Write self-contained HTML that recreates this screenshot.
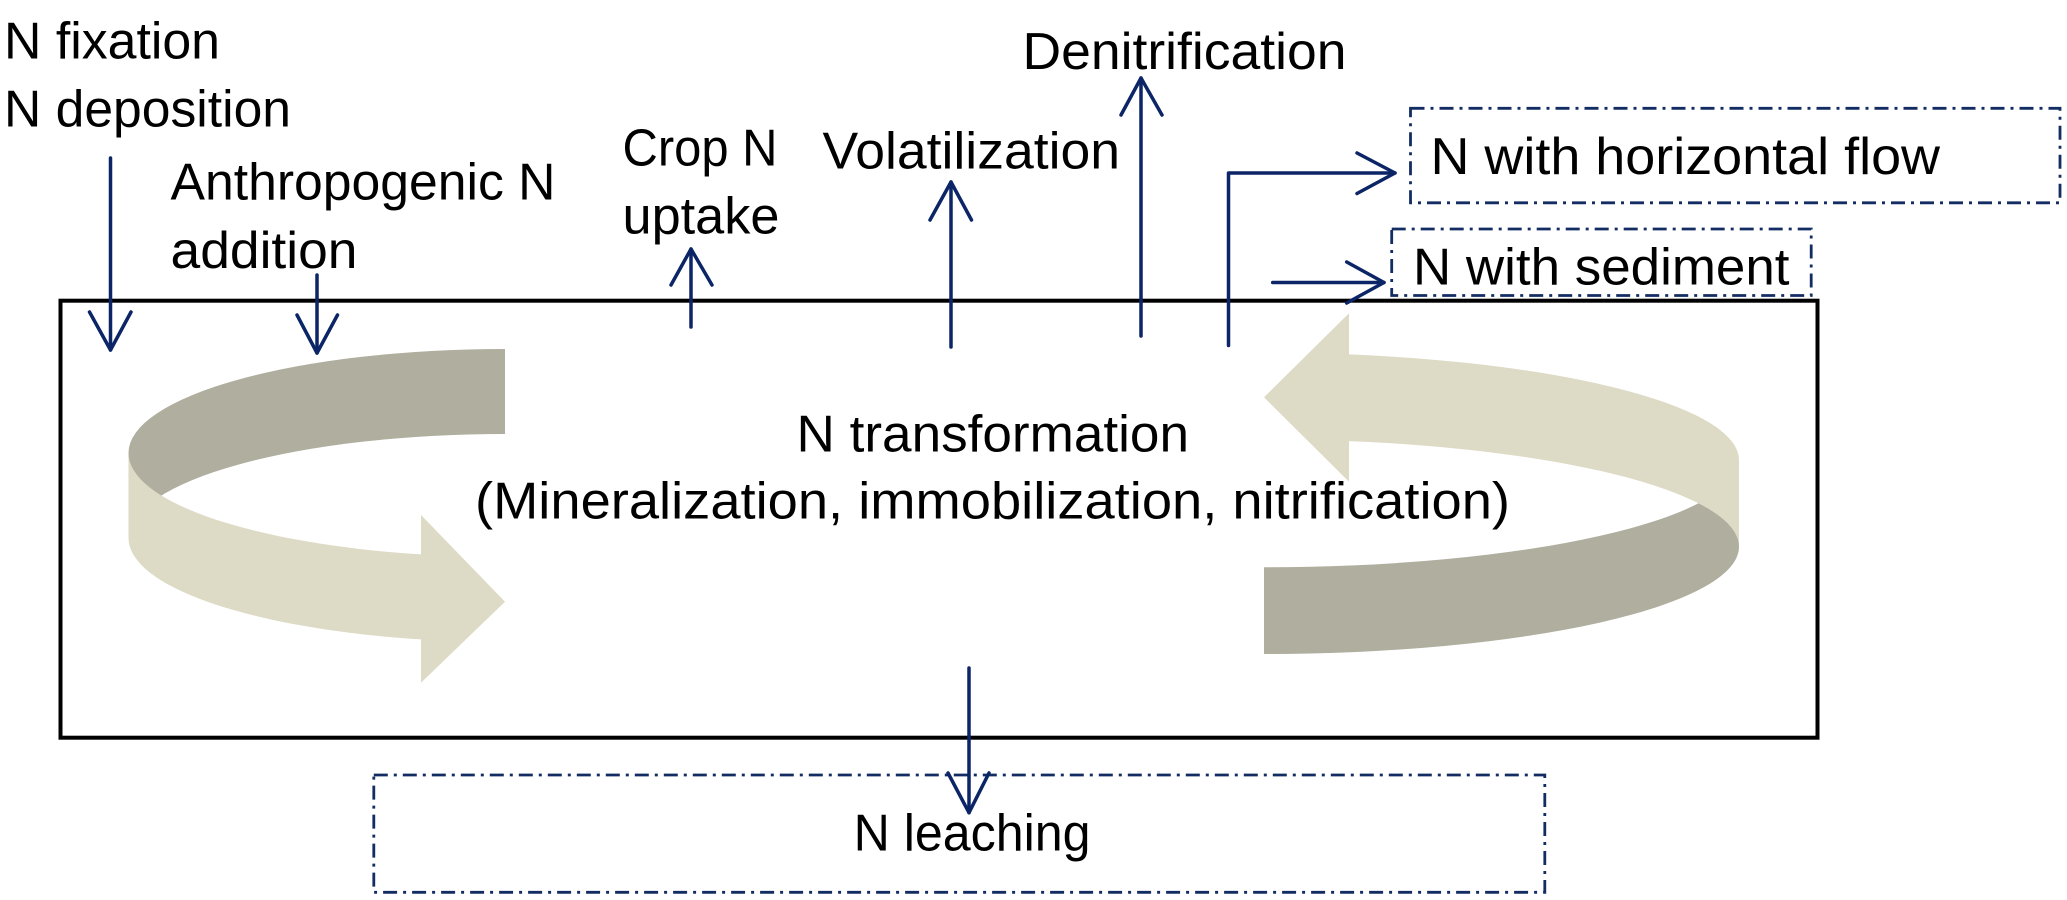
<!DOCTYPE html>
<html>
<head>
<meta charset="utf-8">
<style>
  html, body { margin: 0; padding: 0; background: #ffffff; }
  body { width: 2067px; height: 900px; overflow: hidden; }
  svg { display: block; }
  .t { font-family: "Liberation Sans", Arial, sans-serif; font-size: 52px; fill: #000; }
  .nv { stroke: #0b2566; stroke-width: 3.5; fill: none; stroke-linecap: round; stroke-linejoin: round; }
  .dd { stroke: #132d63; stroke-width: 2.8; fill: none; stroke-dasharray: 14 6 3 6; }
</style>
</head>
<body>
<svg width="2067" height="900" viewBox="0 0 2067 900" xmlns="http://www.w3.org/2000/svg">
  <rect x="0" y="0" width="2067" height="900" fill="#ffffff"/>

  <!-- main box -->
  <rect x="60.5" y="300.7" width="1757" height="437" fill="none" stroke="#000" stroke-width="4"/>

  <!-- left curved arrow -->
  <path d="M 505 349 A 376.5 104 0 0 0 128.5 453 L 128.5 538 A 376.5 104 0 0 1 505 434 Z" fill="#b0ae9e"/>
  <path d="M 128.5 453 A 376.5 104 0 0 0 421 554.4 L 421 515 L 505 601.7 L 421 682.7 L 421 639.4 A 376.5 104 0 0 1 128.5 538 Z" fill="#dddac5"/>

  <!-- right curved arrow -->
  <path d="M 1264 567.3 A 475 107.3 0 0 0 1739 460 L 1739 546.7 A 475 107.3 0 0 1 1264 654 Z" fill="#b0ae9e"/>
  <path d="M 1349 354.4 A 475 107.3 0 0 1 1739 460 L 1739 546.7 A 475 107.3 0 0 0 1349 441.1 L 1349 481.7 L 1264 397.3 L 1349 313.3 Z" fill="#dddac5"/>

  <!-- dashed boxes -->
  <rect class="dd" x="1410.5" y="108.3" width="649.5" height="94.5"/>
  <rect class="dd" x="1391.7" y="229" width="419.5" height="66.5"/>
  <rect class="dd" x="373.8" y="775" width="1171" height="117.3"/>

  <!-- texts -->
  <text class="t" x="4" y="58.3" textLength="216" lengthAdjust="spacingAndGlyphs">N fixation</text>
  <text class="t" x="4" y="126.7" textLength="287" lengthAdjust="spacingAndGlyphs">N deposition</text>
  <text class="t" x="170.5" y="199.3" textLength="385" lengthAdjust="spacingAndGlyphs">Anthropogenic N</text>
  <text class="t" x="170.5" y="268" textLength="187" lengthAdjust="spacingAndGlyphs">addition</text>
  <text class="t" x="622.5" y="165.3" textLength="155" lengthAdjust="spacingAndGlyphs">Crop N</text>
  <text class="t" x="622.5" y="233.4" textLength="157" lengthAdjust="spacingAndGlyphs">uptake</text>
  <text class="t" x="822.5" y="168.4" textLength="297.5" lengthAdjust="spacingAndGlyphs">Volatilization</text>
  <text class="t" x="1022.5" y="69" textLength="324" lengthAdjust="spacingAndGlyphs">Denitrification</text>
  <text class="t" x="1430.5" y="174.1" textLength="509.5" lengthAdjust="spacingAndGlyphs">N with horizontal flow</text>
  <text class="t" x="1413" y="284.5" textLength="376.5" lengthAdjust="spacingAndGlyphs">N with sediment</text>
  <text class="t" x="796.5" y="451.3" textLength="392.5" lengthAdjust="spacingAndGlyphs">N transformation</text>
  <text class="t" x="475" y="518.3" textLength="1035" lengthAdjust="spacingAndGlyphs">(Mineralization, immobilization, nitrification)</text>
  <text class="t" x="853.6" y="850.7" textLength="237" lengthAdjust="spacingAndGlyphs">N leaching</text>

  <!-- navy arrows -->
  <line class="nv" x1="110.5" y1="158" x2="110.5" y2="350"/>
  <polyline class="nv" points="89.5,312 110.5,350 131,312"/>
  <line class="nv" x1="317" y1="275" x2="317" y2="353"/>
  <polyline class="nv" points="297,315 317,353 337.5,315"/>
  <line class="nv" x1="691" y1="327" x2="691" y2="249"/>
  <polyline class="nv" points="671,285 691,249 712,285"/>
  <line class="nv" x1="951" y1="347" x2="951" y2="182"/>
  <polyline class="nv" points="930,220 951,182 971.5,220"/>
  <line class="nv" x1="1141" y1="336" x2="1141" y2="78"/>
  <polyline class="nv" points="1121,115 1141,78 1162,115"/>
  <polyline class="nv" points="1228.5,345.5 1228.5,173 1395,173" stroke-linecap="butt"/>
  <polyline class="nv" points="1357,153 1395,173 1357,193.5"/>
  <line class="nv" x1="1272.7" y1="282.5" x2="1384" y2="282.5" stroke-linecap="butt"/>
  <polyline class="nv" points="1346.7,262 1384,282.5 1346.7,303"/>
  <line class="nv" x1="969" y1="668" x2="969" y2="812.7" stroke-linecap="butt"/>
  <polyline class="nv" points="948,773 969,812.7 989,773"/>
</svg>
</body>
</html>
